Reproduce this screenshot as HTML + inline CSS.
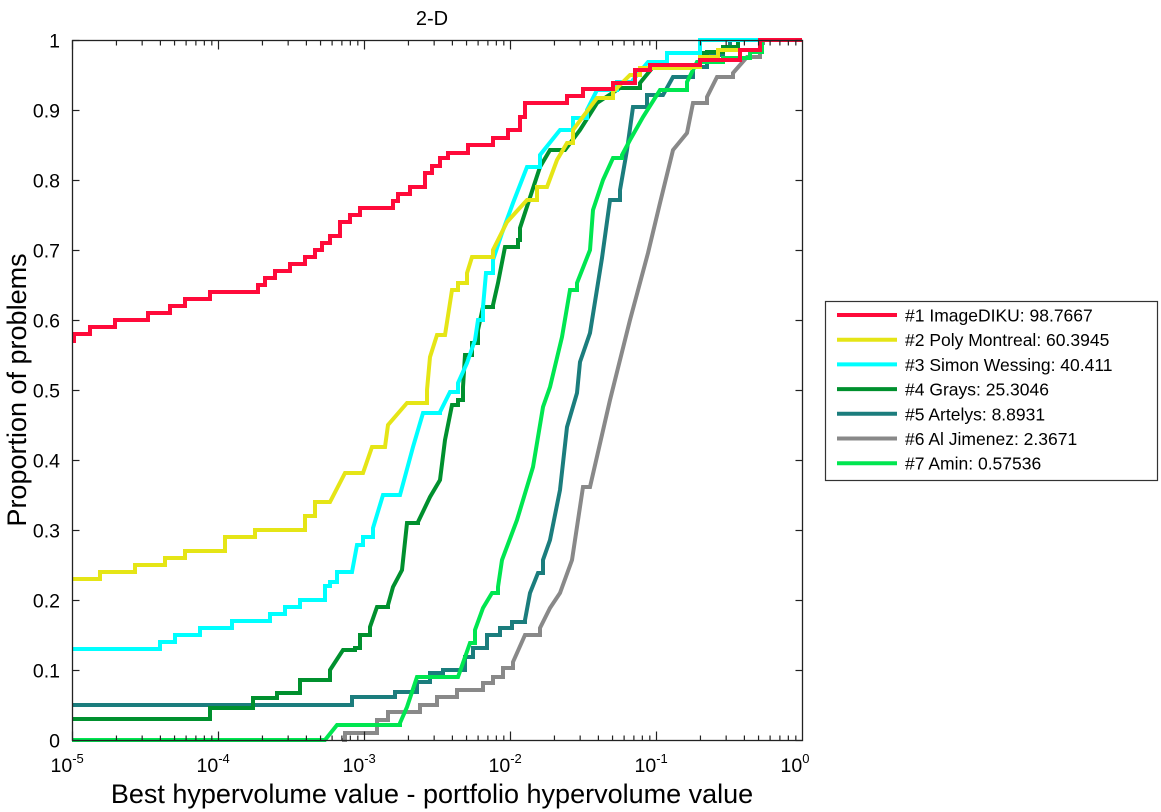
<!DOCTYPE html>
<html><head><meta charset="utf-8"><style>
html,body{margin:0;padding:0;background:#fff}
svg{display:block;font-family:"Liberation Sans",Arial,sans-serif}
</style></head><body>
<svg id="s" width="1161" height="812" viewBox="0 0 1161 812" xmlns="http://www.w3.org/2000/svg">
<rect width="1161" height="812" fill="#fff"/>
<text x="432" y="25" font-size="20" text-anchor="middle">2-D</text>
<g id="curves" fill="none" stroke-width="4" stroke-linejoin="miter"></g>
<rect x="72.5" y="40.5" width="730" height="700" fill="none" stroke="#222" stroke-width="1.3"/>
<g id="ticks" stroke="#222" stroke-width="1.2"></g>
<g id="labels" font-size="19.5"></g>
<text x="432" y="803" font-size="27" text-anchor="middle">Best hypervolume value - portfolio hypervolume value</text>
<text transform="translate(26,390) rotate(-90)" font-size="27" text-anchor="middle">Proportion of problems</text>
<rect x="825.5" y="301.5" width="332" height="179" fill="#fff" stroke="#333" stroke-width="1.2"/>
<g id="legend" font-size="17.5"></g>
</svg>
<script>
var NS="http://www.w3.org/2000/svg";
function el(t,a,p,txt){var e=document.createElementNS(NS,t);for(var k in a)e.setAttribute(k,a[k]);if(txt!=null)e.textContent=txt;document.getElementById(p).appendChild(e);return e;}
var X0=72.5,D=146,Y0=740.5;
for(var d=0;d<5;d++){for(var m=1;m<10;m++){var x=X0+D*(d+Math.log10(m));var L=m==1?9:5;
 el("line",{x1:x,y1:Y0,x2:x,y2:Y0-L},"ticks");el("line",{x1:x,y1:40.5,x2:x,y2:40.5+L},"ticks");}}
for(var i=0;i<=10;i++){var y=Y0-70*i;el("line",{x1:X0,y1:y,x2:X0+7,y2:y},"ticks");el("line",{x1:802.5,y1:y,x2:795.5,y2:y},"ticks");
 var lab=i==0?"0":(i==10?"1":"0."+i);el("text",{x:60,y:y+7,"text-anchor":"end"},"labels",lab);}
for(var d=0;d<=5;d++){var x=X0+D*d;var t=el("text",{x:x-22,y:772},"labels");
 var a=document.createElementNS(NS,"tspan");a.textContent="10";t.appendChild(a);
 var b=document.createElementNS(NS,"tspan");b.setAttribute("dy","-9");b.setAttribute("font-size","13");b.textContent=d==5?"0":"-"+(5-d);t.appendChild(b);}
var C={
gray:["#898989",[[342,740],[345,733],[377,733],[377,720],[388,720],[388,712],[420,712],[420,705],[437,705],[437,697],[457,697],[457,690],[483,690],[483,683],[493,677],[503,668],[513,662],[525,635],[540,628],[550,608],[560,593],[572,560],[583,487],[590,487],[610,400],[630,320],[648,253],[660,203],[673,150],[687,133],[693,103],[707,97],[717,77],[733,73],[747,57],[760,43],[763,40],[802,40]]],
teal:["#1b7d7d",[[72,705],[350,705],[352,697],[395,697],[395,692],[417,692],[417,682],[430,682],[430,673],[443,670],[457,670],[465,657],[473,648],[487,648],[487,635],[500,635],[500,628],[512,628],[512,622],[525,620],[530,593],[538,573],[543,560],[550,540],[560,490],[567,427],[577,393],[580,362],[590,333],[602,258],[610,200],[620,190],[627,150],[633,107],[647,95],[663,95],[673,77],[693,67],[707,55],[723,47],[730,40],[802,40]]],
lg:["#00e650",[[72,740],[325,740],[337,725],[400,723],[407,707],[417,677],[458,677],[470,643],[475,630],[483,608],[492,593],[498,587],[502,560],[517,520],[533,467],[543,407],[550,387],[562,337],[570,290],[577,283],[590,250],[593,210],[603,180],[613,158],[622,155],[630,140],[643,117],[660,90],[687,82],[697,62],[723,58],[750,52],[762,40],[802,40]]],
dg:["#00902e",[[72,719],[208,719],[210,708],[253,708],[253,698],[277,698],[277,693],[292,693],[300,680],[330,670],[343,650],[355,648],[360,635],[370,627],[377,607],[388,605],[393,587],[402,570],[407,523],[418,522],[430,497],[440,480],[445,440],[452,405],[458,400],[463,387],[465,355],[472,343],[478,330],[483,307],[493,305],[498,283],[505,247],[518,240],[520,228],[540,167],[550,150],[565,150],[580,130],[597,103],[620,88],[640,83],[653,67],[667,53],[707,52],[723,47],[738,40],[802,40]]],
cy:["#00ffff",[[72,649],[150,649],[160,642],[175,635],[200,628],[232,621],[270,614],[285,607],[300,600],[325,586],[330,582],[337,572],[352,572],[357,545],[363,537],[373,528],[383,495],[400,495],[413,447],[423,413],[440,412],[450,392],[458,383],[467,363],[475,340],[478,320],[483,307],[486,273],[493,260],[502,233],[513,203],[527,167],[540,155],[560,130],[573,118],[587,110],[597,90],[617,82],[633,80],[648,62],[667,53],[700,40],[802,40]]],
ye:["#e5e516",[[72,579],[100,579],[100,572],[135,572],[135,565],[165,565],[165,558],[185,558],[185,551],[205,551],[225,537],[255,530],[300,530],[305,516],[315,502],[330,502],[345,473],[363,473],[372,447],[385,447],[388,425],[407,403],[422,403],[427,390],[430,357],[437,335],[445,335],[452,290],[458,283],[467,273],[472,257],[492,257],[493,250],[507,222],[527,200],[537,187],[547,187],[557,160],[567,143],[573,130],[597,98],[613,92],[630,75],[640,68],[690,67],[700,57],[718,50],[760,40],[802,40]]],
rd:["#ff0a3a",[[72,341],[74,334],[90,334],[90,327],[115,327],[115,320],[148,320],[148,313],[170,313],[170,306],[185,306],[185,299],[210,299],[210,292],[258,292],[258,285],[265,285],[265,278],[275,278],[275,271],[290,271],[290,264],[305,264],[305,257],[315,257],[315,250],[322,250],[322,243],[330,243],[330,236],[340,236],[340,222],[350,222],[350,215],[360,215],[360,208],[393,208],[393,201],[398,201],[398,194],[410,194],[410,187],[425,187],[425,173],[432,173],[432,166],[440,166],[440,158],[448,153],[468,145],[493,145],[493,138],[508,138],[508,130],[520,117],[525,103],[567,103],[567,96],[583,96],[583,89],[613,89],[613,83],[635,70],[650,65],[700,60],[740,50],[760,40],[802,40]]]
};
for(var k in C){var p=C[k][1],out=[p[0]];
 for(var j=1;j<p.length;j++){var a=p[j-1],b=p[j];var dy=Math.abs(b[1]-a[1]),dx=Math.abs(b[0]-a[0]);
  if(dx>0&&dy>0&&dy<=14){out.push([b[0],a[1]]);}
  out.push(b);}
 el("polyline",{points:out.map(function(q){return q.join(",")}).join(" "),stroke:C[k][0]},"curves");}
var leg=[["#ff0a3a","#1 ImageDIKU: 98.7667"],["#e5e516","#2 Poly Montreal: 60.3945"],["#00ffff","#3 Simon Wessing: 40.411"],["#00902e","#4 Grays: 25.3046"],["#1b7d7d","#5 Artelys: 8.8931"],["#898989","#6 Al Jimenez: 2.3671"],["#00e650","#7 Amin: 0.57536"]];
leg.forEach(function(l,i){var y=315+24.7*i;el("line",{x1:837,y1:y,x2:897,y2:y,stroke:l[0],"stroke-width":4},"legend");el("text",{x:905,y:y+6.5},"legend",l[1]);});
</script>
</body></html>
